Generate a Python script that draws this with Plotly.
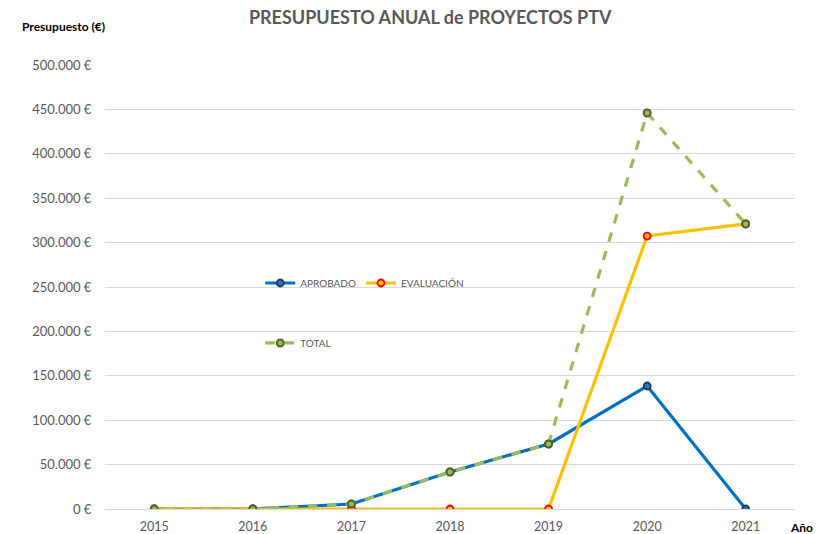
import plotly.graph_objects as go

years = ["2015", "2016", "2017", "2018", "2019", "2020", "2021"]
aprobado = [0, 0, 5600, 41700, 73200, 138500, 0]
evaluacion = [0, 0, 0, 0, 0, 307400, 321000]
total = [0, 0, 5600, 41700, 73200, 445900, 321000]
ytick_vals = [0, 50000, 100000, 150000, 200000, 250000, 300000, 350000, 400000, 450000, 500000]
ytick_text = [f"{v:,}".replace(",", ".") + " €" for v in ytick_vals]

FONT = "Lato, 'Open Sans', sans-serif"

fig = go.Figure()
fig.add_trace(go.Scatter(
    x=years, y=aprobado, name="APROBADO", mode="lines+markers",
    line=dict(color="#0070C0", width=3.2),
    marker=dict(symbol="circle", size=7, color="#2E75B6", line=dict(color="#1F3864", width=1.8)),
    legend="legend",
))
fig.add_trace(go.Scatter(
    x=years, y=evaluacion, name="EVALUACIÓN", mode="lines+markers",
    line=dict(color="#FFC000", width=3.2),
    marker=dict(symbol="circle", size=7, color="#FFC000", line=dict(color="#FF0000", width=1.8)),
    legend="legend",
))
fig.add_trace(go.Scatter(
    x=years, y=total, name="TOTAL", mode="lines+markers",
    line=dict(color="#9BBB59", width=3.2, dash="dash"),
    marker=dict(symbol="circle", size=7, color="#9BBB59", line=dict(color="#4F6228", width=2)),
    legend="legend2",
))

fig.update_layout(
    width=821, height=534,
    margin=dict(l=105, r=26, t=65, b=25, autoexpand=False),
    paper_bgcolor="white", plot_bgcolor="white",
    font=dict(family=FONT, color="#595959", size=12),
    title=dict(text="<b>PRESUPUESTO ANUAL de PROYECTOS PTV</b>", x=0.524, xanchor="center",
               y=0.967, yanchor="middle", font=dict(size=18, color="#595959", family=FONT)),
    xaxis=dict(type="category", range=[-0.5, 6.5], showgrid=False, showline=False, automargin=False,
               ticks="outside", ticklen=6, tickcolor="white",
               tickfont=dict(size=12.5, color="#595959"), zeroline=False),
    yaxis=dict(range=[0, 500000], tickmode="array", tickvals=ytick_vals, ticktext=ytick_text,
               showgrid=True, gridcolor="#D9D9D9", gridwidth=1, zeroline=True, automargin=False,
               zerolinecolor="#D9D9D9", zerolinewidth=1, showline=False,
               tickfont=dict(size=13, color="#595959"), ticks="outside", ticklen=10, tickcolor="white"),
    legend=dict(orientation="h", x=0.225, y=0.509, xanchor="left", yanchor="middle",
                bgcolor="rgba(0,0,0,0)", font=dict(size=10, color="#595959"), itemwidth=30,
                tracegroupgap=0),
    legend2=dict(orientation="h", x=0.225, y=0.374, xanchor="left", yanchor="middle",
                 bgcolor="rgba(0,0,0,0)", font=dict(size=10, color="#595959"), itemwidth=30),
    showlegend=True,
    annotations=[
        dict(text="<b>Presupuesto (€)</b>", xref="paper", yref="paper", x=-0.123, y=1.0856,
             xanchor="left", yanchor="middle", showarrow=False,
             font=dict(size=12, color="#000000", family=FONT)),
        dict(text="<b>Año</b>", xref="paper", yref="paper", x=1.01, y=-0.041,
             xanchor="center", yanchor="middle", showarrow=False,
             font=dict(size=12, color="#000000", family=FONT)),
    ],
)

fig.write_html("out.html", config={"displayModeBar": False},
               post_script="document.body.style.margin='0';document.body.style.overflow='hidden';")
